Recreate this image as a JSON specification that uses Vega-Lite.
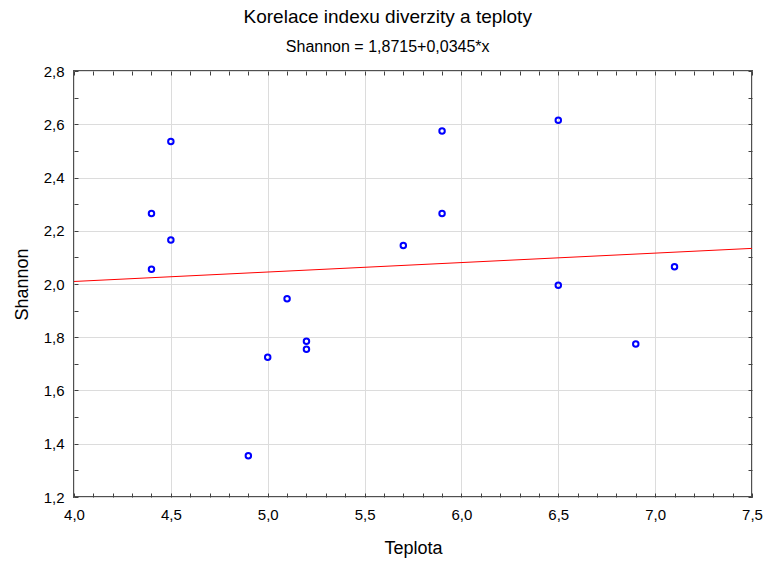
{
  "$schema": "https://vega.github.io/schema/vega-lite/v6.json",
  "width": 678,
  "height": 426,
  "autosize": {"type": "none"},
  "padding": {"left": 74, "top": 71, "right": 16, "bottom": 69},
  "background": "white",
  "title": {
    "text": "Korelace indexu diverzity a teploty",
    "subtitle": "Shannon = 1,8715+0,0345*x",
    "anchor": "middle",
    "frame": "bounds",
    "font": "Liberation Sans",
    "fontSize": 19,
    "fontWeight": "normal",
    "color": "black",
    "subtitleFont": "Liberation Sans",
    "subtitleFontSize": 16,
    "subtitleColor": "black",
    "offset": 9,
    "subtitlePadding": 12
  },
  "config": {
    "font": "Liberation Sans",
    "view": {"stroke": "#505050", "strokeWidth": 2},
    "axis": {
      "domain": false,
      "tickSize": -4,
      "tickColor": "#404040",
      "tickWidth": 1,
      "labelFont": "Liberation Sans",
      "labelFontSize": 15,
      "labelColor": "black",
      "labelOverlap": false,
      "labelFlush": false,
      "titleFont": "Liberation Sans",
      "titleFontSize": 18,
      "titleFontWeight": "normal",
      "titleColor": "black",
      "gridWidth": 1
    }
  },
  "datasets": {
    "pts": [
      {"Teplota": 4.4, "Shannon": 2.265},
      {"Teplota": 4.4, "Shannon": 2.055},
      {"Teplota": 4.5, "Shannon": 2.535},
      {"Teplota": 4.5, "Shannon": 2.165},
      {"Teplota": 4.9, "Shannon": 1.355},
      {"Teplota": 5.0, "Shannon": 1.725},
      {"Teplota": 5.1, "Shannon": 1.945},
      {"Teplota": 5.2, "Shannon": 1.785},
      {"Teplota": 5.2, "Shannon": 1.755},
      {"Teplota": 5.7, "Shannon": 2.145},
      {"Teplota": 5.9, "Shannon": 2.575},
      {"Teplota": 5.9, "Shannon": 2.265},
      {"Teplota": 6.5, "Shannon": 2.615},
      {"Teplota": 6.5, "Shannon": 1.995},
      {"Teplota": 6.9, "Shannon": 1.775},
      {"Teplota": 7.1, "Shannon": 2.065}
    ],
    "fit": [
      {"Teplota": 4.0, "Shannon": 2.0095},
      {"Teplota": 7.5, "Shannon": 2.13375}
    ]
  },
  "layer": [
    {
      "data": {"name": "fit"},
      "mark": {"type": "line", "color": "#ff0000", "strokeWidth": 1},
      "encoding": {
        "x": {
          "field": "Teplota", "type": "quantitative",
          "scale": {"domain": [4, 7.5], "nice": false, "zero": false},
          "axis": {
            "orient": "top", "title": null, "labels": false, "grid": false,
            "values": [4,4.1,4.2,4.3,4.4,4.5,4.6,4.7,4.8,4.9,5,5.1,5.2,5.3,5.4,5.5,5.6,5.7,5.8,5.9,6,6.1,6.2,6.3,6.4,6.5,6.6,6.7,6.8,6.9,7,7.1,7.2,7.3,7.4,7.5]
          }
        },
        "y": {
          "field": "Shannon", "type": "quantitative",
          "scale": {"domain": [1.2, 2.8], "nice": false, "zero": false},
          "axis": {
            "orient": "right", "title": null, "labels": false, "grid": false,
            "values": [1.2,1.3,1.4,1.5,1.6,1.7,1.8,1.9,2,2.1,2.2,2.3,2.4,2.5,2.6,2.7,2.8]
          }
        }
      }
    },
    {
      "data": {"name": "pts"},
      "mark": {"type": "point", "filled": false, "color": "#0000ff", "strokeWidth": 2, "size": 30, "opacity": 1},
      "encoding": {
        "x": {
          "field": "Teplota", "type": "quantitative",
          "scale": {"domain": [4, 7.5], "nice": false, "zero": false},
          "axis": {
            "orient": "bottom", "title": "Teplota",
            "grid": true,
            "values": [4,4.1,4.2,4.3,4.4,4.5,4.6,4.7,4.8,4.9,5,5.1,5.2,5.3,5.4,5.5,5.6,5.7,5.8,5.9,6,6.1,6.2,6.3,6.4,6.5,6.6,6.7,6.8,6.9,7,7.1,7.2,7.3,7.4,7.5],
            "labelExpr": "abs(datum.value*2 - round(datum.value*2)) < 0.001 ? replace(format(datum.value, '.1f'), '.', ',') : ''",
            "gridColor": {"condition": {"test": "abs(datum.value*2 - round(datum.value*2)) < 0.001", "value": "#dcdcdc"}, "value": "rgba(0,0,0,0)"},
            "labelPadding": 14,
            "titleFontSize": 18,
            "titleY": 56,
            "titleBaseline": "alphabetic"
          }
        },
        "y": {
          "field": "Shannon", "type": "quantitative",
          "scale": {"domain": [1.2, 2.8], "nice": false, "zero": false},
          "axis": {
            "orient": "left", "title": "Shannon",
            "grid": true,
            "values": [1.2,1.3,1.4,1.5,1.6,1.7,1.8,1.9,2,2.1,2.2,2.3,2.4,2.5,2.6,2.7,2.8],
            "labelExpr": "abs(datum.value*5 - round(datum.value*5)) < 0.001 ? replace(format(datum.value, '.1f'), '.', ',') : ''",
            "gridColor": {"condition": {"test": "abs(datum.value*5 - round(datum.value*5)) < 0.001", "value": "#dcdcdc"}, "value": "rgba(0,0,0,0)"},
            "labelPadding": 14,
            "titleFontSize": 18,
            "titleX": -47,
            "titleBaseline": "alphabetic"
          }
        }
      }
    }
  ],
  "resolve": {"axis": {"x": "independent", "y": "independent"}}
}
